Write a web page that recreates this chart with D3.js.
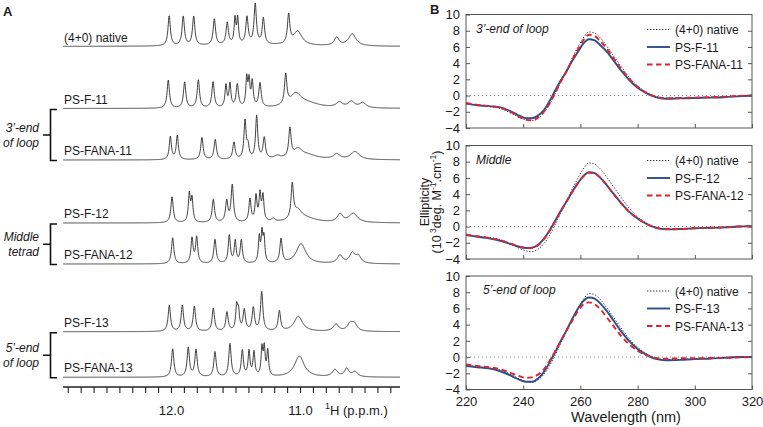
<!DOCTYPE html>
<html>
<head>
<meta charset="utf-8">
<script src="https://cdn.jsdelivr.net/npm/d3@7"></script>
<style>
  body { margin: 0; background: #fff; }
  text { font-family: "Liberation Sans", Arial, sans-serif; fill: #1a1a1a; }
</style>
</head>
<body>
<div id="chart"></div>
<script>
// ---- panel A : 1H NMR imino region, peaks as [ppm, intensity, half-width ppm] ----
var spectrumNames = ["(4+0) native", "PS-F-11", "PS-FANA-11", "PS-F-12", "PS-FANA-12", "PS-F-13", "PS-FANA-13"];

var peaksNative = [[12.014, 30, .011], [11.905, 29, .011], [11.824, 29, .011], [11.664, 26, .011], [11.564, 22, .011],
  [11.504, 25, .008], [11.483, 25, .008], [11.411, 27, .011], [11.347, 40, .011], [11.284, 26, .011],
  [11.088, 29, .011], [11.018, 14, .04], [10.716, 8, .022], [10.595, 12, .035], [11.4, 1.5, .4]];
var peaksF11 = [[12.021, 28, .011], [11.894, 26, .011], [11.788, 28, .011], [11.674, 26, .011], [11.574, 22, .009],
  [11.543, 23, .009], [11.486, 23, .011], [11.413, 28, .008], [11.395, 25, .008], [11.370, 25, .009],
  [11.310, 24, .011], [11.111, 30, .011], [11.033, 12, .05], [10.95, 5, .12], [10.695, 5, .03],
  [10.602, 6, .03], [10.514, 5, .03]];
var peaksFANA11 = [[12.005, 23, .01], [11.951, 24, .01], [11.760, 22, .011], [11.657, 20, .011], [11.512, 17, .011],
  [11.426, 38, .01], [11.403, 12, .01], [11.336, 43, .01], [11.277, 21, .011], [11.176, 3, .03],
  [11.078, 29, .011], [11.016, 8, .035], [10.95, 5, .1], [10.716, 5, .03], [10.574, 8, .04]];
var peaksF12 = [[11.992, 26, .011], [11.858, 28, .009], [11.837, 23, .009], [11.672, 23, .011], [11.568, 21, .011],
  [11.525, 37, .011], [11.388, 23, .01], [11.341, 25, .009], [11.310, 27, .009], [11.287, 25, .009],
  [11.207, 3, .02], [11.060, 34, .011], [11.018, 10, .04], [10.95, 4, .1], [10.690, 8, .025], [10.587, 9, .04]];
var peaksFANA12 = [[11.987, 26, .011], [11.837, 25, .01], [11.801, 26, .01], [11.659, 24, .011], [11.548, 28, .01],
  [11.502, 22, .009], [11.455, 23, .01], [11.316, 25, .008], [11.295, 28, .008], [11.279, 24, .008],
  [11.147, 24, .011], [10.992, 20, .045], [10.690, 8, .025], [10.595, 10, .025], [10.548, 7, .025]];
var peaksF13 = [[12.013, 26, .011], [11.912, 26, .011], [11.819, 25, .011], [11.672, 23, .011], [11.566, 19, .011],
  [11.491, 23, .009], [11.477, 18, .009], [11.432, 21, .011], [11.362, 23, .011], [11.297, 39, .011],
  [11.160, 20, .011], [11.013, 15, .04], [10.721, 7, .025], [10.612, 7, .025], [10.579, 7, .025]];
var peaksFANA13 = [[11.987, 28, .011], [11.866, 29, .011], [11.806, 27, .011], [11.659, 25, .011], [11.543, 33, .011],
  [11.447, 26, .01], [11.395, 25, .009], [11.357, 24, .009], [11.295, 27, .008], [11.277, 27, .008],
  [11.250, 25, .008], [11.005, 21, .045], [10.729, 7, .025], [10.638, 8, .02], [10.574, 5, .025]];
var allPeaks = [peaksNative, peaksF11, peaksFANA11, peaksF12, peaksFANA12, peaksF13, peaksFANA13];

var groupLabels = [["3\u2019-end", "of loop"], ["Middle", "tetrad"], ["5\u2019-end", "of loop"]];
var ppmMajor = [12.0, 11.0];

// ---- panel B : CD spectra ----
var wavelengths = [220, 224, 228, 232, 236, 239, 241, 243, 245, 247, 249, 251, 253, 255, 257, 259, 261, 263, 265,
  267, 269, 271, 274, 277, 280, 283, 286, 290, 295, 300, 305, 310, 315, 320];
var cdNative = [-1.0, -1.2, -1.35, -1.6, -2.2, -2.75, -3.0, -3.1, -2.85, -2.2, -1.2, 0.1, 1.6, 3.0, 4.5, 5.9, 7.1, 7.85, 7.7,
  7.1, 6.2, 5.2, 3.7, 2.3, 1.2, 0.45, -0.05, -0.3, -0.3, -0.25, -0.2, -0.15, -0.05, 0.0];
var cdF11 = [-1.0, -1.2, -1.3, -1.45, -2.0, -2.55, -2.8, -2.8, -2.5, -1.9, -0.8, 0.5, 1.8, 2.9, 4.2, 5.3, 6.4, 6.95, 6.8,
  6.2, 5.5, 4.6, 3.2, 1.95, 0.95, 0.3, -0.15, -0.4, -0.35, -0.3, -0.25, -0.2, -0.1, 0.0];
var cdFANA11 = [-0.9, -1.15, -1.3, -1.5, -2.1, -2.7, -3.0, -3.05, -2.75, -2.1, -1.1, 0.2, 1.6, 2.9, 4.3, 5.6, 6.8, 7.5, 7.35,
  6.7, 5.9, 4.9, 3.4, 2.1, 1.05, 0.35, -0.1, -0.35, -0.3, -0.25, -0.2, -0.15, -0.05, 0.0];
var cdF12 = [-1.05, -1.25, -1.45, -1.75, -2.2, -2.55, -2.65, -2.6, -2.3, -1.6, -0.6, 0.6, 1.85, 3.0, 4.2, 5.3, 6.2, 6.7, 6.6,
  6.0, 5.2, 4.3, 3.0, 1.85, 1.0, 0.35, -0.1, -0.35, -0.3, -0.2, -0.15, -0.1, 0.0, 0.05];
var cdFANA12 = [-1.0, -1.2, -1.4, -1.7, -2.15, -2.5, -2.65, -2.65, -2.35, -1.65, -0.65, 0.55, 1.8, 3.0, 4.2, 5.3, 6.2, 6.65, 6.55,
  6.0, 5.2, 4.3, 3.0, 1.85, 1.0, 0.35, -0.1, -0.3, -0.3, -0.2, -0.15, -0.1, 0.0, 0.05];
var cdF13 = [-1.1, -1.25, -1.4, -1.75, -2.35, -2.85, -3.05, -3.05, -2.7, -1.95, -0.8, 0.5, 1.9, 3.2, 4.6, 5.9, 6.9, 7.35, 7.2,
  6.6, 5.8, 4.8, 3.3, 2.0, 1.0, 0.3, -0.2, -0.4, -0.35, -0.25, -0.2, -0.1, 0.0, 0.0];
var cdFANA13 = [-0.9, -1.1, -1.25, -1.5, -2.0, -2.4, -2.55, -2.5, -2.2, -1.6, -0.6, 0.6, 1.9, 3.2, 4.4, 5.6, 6.5, 6.75, 6.5,
  5.9, 5.0, 4.1, 2.7, 1.6, 0.8, 0.25, -0.1, -0.2, -0.15, -0.15, -0.1, -0.1, -0.05, 0.0];

var cdTitles = ["3\u2019-end of loop", "Middle", "5\u2019-end of loop"];
var cdSeries = [[cdNative, cdF11, cdFANA11], [cdNative, cdF12, cdFANA12], [cdNative, cdF13, cdFANA13]];
var cdNames = [["(4+0) native", "PS-F-11", "PS-FANA-11"], ["(4+0) native", "PS-F-12", "PS-FANA-12"],
  ["(4+0) native", "PS-F-13", "PS-FANA-13"]];
var yTicks = [-4, -2, 0, 2, 4, 6, 8, 10];
var xTicks = [220, 240, 260, 280, 300, 320];

// ====================================================================
var width = 763, height = 427;
var svg = d3.select("#chart").append("svg").attr("width", width).attr("height", height);

// ---------- panel A ----------
var xN = d3.scaleLinear().domain([12.837, 10.225]).range([63, 400]);
var yI = d3.scaleLinear().domain([0, 50]).range([0, 50]);
var baselines = [46.5, 108.5, 160, 223, 264, 331.7, 377.3];
var ppmGrid = d3.range(10.225, 12.8371, 0.002);

function spectrum(peaks) {
  return ppmGrid.map(function(p) {
    var s = d3.sum(peaks, function(k) { return k[1] * k[2] * k[2] / ((p - k[0]) * (p - k[0]) + k[2] * k[2]); });
    return [p, s];
  });
}

svg.append("text").attr("x", 3).attr("y", 16).attr("font-size", 13).attr("font-weight", "bold").text("A");

allPeaks.forEach(function(peaks, i) {
  var b = baselines[i];
  var line = d3.line().x(function(d) { return xN(d[0]); }).y(function(d) { return b - yI(d[1]); });
  svg.append("path").datum(spectrum(peaks)).attr("d", line)
    .attr("fill", "none").attr("stroke", "#2b2b2b").attr("stroke-width", 0.9);
  svg.append("text").attr("x", 64).attr("y", b - 5).attr("font-size", 12).text(spectrumNames[i]);
});

// brackets
groupLabels.forEach(function(lbl, g) {
  var top = baselines[1 + g * 2] + 1, bot = baselines[2 + g * 2] + 0.5, mid = (top + bot) / 2;
  svg.append("path").attr("d", "M57," + top + "H50.5V" + bot + "H57M50.5," + mid + "H43")
    .attr("fill", "none").attr("stroke", "#111").attr("stroke-width", 1.6);
  lbl.forEach(function(t, j) {
    svg.append("text").attr("x", 39).attr("y", mid - 3 + j * 15).attr("text-anchor", "end")
      .attr("font-size", 12).attr("font-style", "italic").text(t);
  });
});

// ppm axis
var axisY = 387;
var ax = svg.append("g").attr("transform", "translate(0," + axisY + ")")
  .call(d3.axisBottom(xN).tickValues(d3.range(103, 129).map(function(v) { return v / 10; }))
    .tickSize(6).tickPadding(13)
    .tickFormat(function(d) { return ppmMajor.some(function(m) { return Math.abs(m - d) < 1e-6; }) ? d3.format(".1f")(d) : ""; }));
ax.attr("font-size", 13).attr("font-family", null);
ax.select(".domain").attr("stroke", "#222").attr("stroke-width", 1.3).attr("d", "M63,0H400");
ax.selectAll(".tick line").attr("stroke", "#222").attr("stroke-width", 1.1);
ax.selectAll(".tick text").attr("fill", "#1a1a1a");
var hLab = svg.append("text").attr("x", 325).attr("y", 415).attr("font-size", 13);
hLab.append("tspan").attr("font-size", 9).attr("dy", -6).text("1");
hLab.append("tspan").attr("dy", 6).text("H (p.p.m.)");

// ---------- panel B ----------
var x0 = 466, x1 = 752, ph = 113.5;
var panelTops = [14.5, 145.5, 276];
var xC = d3.scaleLinear().domain([220, 320]).range([x0, x1]);
var styles = [
  { stroke: "#333", width: 1, dash: "1.3,1.7" },
  { stroke: "#2c4f8c", width: 1.9, dash: null },
  { stroke: "#e2232d", width: 1.9, dash: "5.5,3.5" }
];

svg.append("text").attr("x", 430).attr("y", 14).attr("font-size", 13).attr("font-weight", "bold").text("B");

panelTops.forEach(function(top, p) {
  var g = svg.append("g").attr("transform", "translate(0," + top + ")");
  var yC = d3.scaleLinear().domain([-4, 10]).range([ph, 0]);

  g.append("line").attr("x1", x0).attr("x2", x1).attr("y1", yC(0)).attr("y2", yC(0))
    .attr("stroke", "#777").attr("stroke-width", 0.9).attr("stroke-dasharray", "1,3");

  cdSeries[p].forEach(function(vals, s) {
    var line = d3.line().curve(d3.curveMonotoneX)
      .x(function(d, i) { return xC(wavelengths[i]); }).y(function(d) { return yC(d); });
    g.append("path").datum(vals).attr("d", line).attr("fill", "none")
      .attr("stroke", styles[s].stroke).attr("stroke-width", styles[s].width)
      .attr("stroke-dasharray", styles[s].dash);
  });

  g.append("rect").attr("x", x0).attr("y", 0).attr("width", x1 - x0).attr("height", ph)
    .attr("fill", "none").attr("stroke", "#555").attr("stroke-width", 1);

  var la = g.append("g").attr("transform", "translate(" + x0 + ",0)")
    .call(d3.axisLeft(yC).tickValues(yTicks).tickSizeInner(-4).tickSizeOuter(0).tickPadding(6));
  la.attr("font-size", 13).attr("font-family", null);
  la.select(".domain").remove();
  la.selectAll(".tick line").attr("stroke", "#555");
  la.selectAll(".tick text").attr("fill", "#1a1a1a");

  var ra = g.append("g").attr("transform", "translate(" + x1 + ",0)")
    .call(d3.axisRight(yC).tickValues(yTicks.slice(1, -1)).tickSizeInner(-4).tickSizeOuter(0).tickFormat(""));
  ra.select(".domain").remove();
  ra.selectAll(".tick line").attr("stroke", "#555");

  var ba = g.append("g").attr("transform", "translate(0," + ph + ")")
    .call(d3.axisBottom(xC).tickValues(xTicks).tickSizeInner(-4).tickSizeOuter(0).tickPadding(7)
      .tickFormat(p === 2 ? d3.format("d") : ""));
  ba.attr("font-size", 13).attr("font-family", null);
  ba.select(".domain").remove();
  ba.selectAll(".tick line").attr("stroke", "#555");
  ba.selectAll(".tick text").attr("fill", "#1a1a1a");

  g.append("text").attr("x", p === 2 ? 483 : 476).attr("y", 18).attr("font-size", 12)
    .attr("font-style", "italic").text(cdTitles[p]);

  cdNames[p].forEach(function(name, s) {
    var ly = 15 + s * 17.5;
    g.append("line").attr("x1", 647).attr("x2", 670).attr("y1", ly).attr("y2", ly)
      .attr("stroke", styles[s].stroke).attr("stroke-width", styles[s].width)
      .attr("stroke-dasharray", styles[s].dash);
    g.append("text").attr("x", 675).attr("y", ly + 4.5).attr("font-size", 12).text(name);
  });
});

svg.append("text").attr("x", 626).attr("y", 422).attr("text-anchor", "middle").attr("font-size", 14.5)
  .text("Wavelength (nm)");

var yt = svg.append("g").attr("transform", "translate(429,202) rotate(-90)");
yt.append("text").attr("x", 0).attr("y", 0).attr("text-anchor", "middle").attr("font-size", 12.5).text("Ellipticity");
var yt2 = yt.append("text").attr("x", 0).attr("y", 12).attr("text-anchor", "middle").attr("font-size", 12.5);
yt2.append("tspan").text("(10");
yt2.append("tspan").attr("font-size", 8.5).attr("dy", -5).text(" 3");
yt2.append("tspan").attr("dy", 5).text("deg. M");
yt2.append("tspan").attr("font-size", 8.5).attr("dy", -5).text("-1");
yt2.append("tspan").attr("dy", 5).text(".cm");
yt2.append("tspan").attr("font-size", 8.5).attr("dy", -5).text("-1");
yt2.append("tspan").attr("dy", 5).text(")");
</script>
</body>
</html>
